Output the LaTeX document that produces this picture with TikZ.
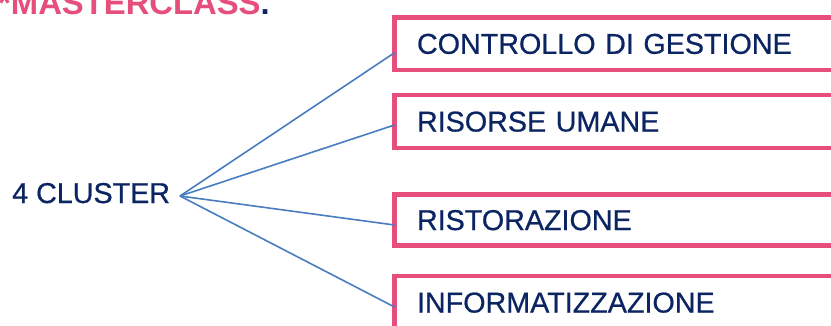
\documentclass[tikz,border=0pt]{standalone}
\usepackage{fontspec}
\setmainfont{Liberation Sans}
\newfontfamily\medfont{Liberation Sans}[FakeBold=0.6]
\definecolor{pinkc}{HTML}{E64E7B}
\definecolor{navy}{HTML}{0B2462}
\definecolor{linkc}{HTML}{4A7DC0}
\begin{document}
\begin{tikzpicture}[x=1pt,y=-1pt,
  txt/.style={text=navy,font=\medfont\fontsize{28.7}{34}\selectfont,inner sep=0pt},
  box/.style={draw=pinkc,line width=4.5pt,anchor=north west,minimum width=600pt,
    text width=555pt,align=left,inner xsep=22.5pt,inner ysep=0pt,outer sep=0pt,
    text depth=0pt,text=navy,font=\medfont\fontsize{28.7}{34}\selectfont},
  link/.style={draw=linkc,line width=1.6pt}]
\useasboundingbox (0,0) rectangle (831,325);
\clip (0,0) rectangle (831,325);
\fill[white] (0,0) rectangle (831,325);
\node[anchor=base west,inner sep=0pt,font=\bfseries\fontsize{32.8}{38}\selectfont,text=pinkc] (title) at (-2,14) {*MASTERCLASS\textcolor{navy}{.}};
\node[txt,anchor=base west] (cluster) at (12,203) {4 CLUSTER};
\coordinate (hub) at (180,196);
\node[box,minimum height=52.5pt] (b1) at (394.5,17.5) {CONTROLLO DI GESTIONE};
\node[box,minimum height=53pt] (b2) at (394.5,95) {RISORSE UMANE};
\node[box,minimum height=51pt] (b3) at (394.5,194.5) {RISTORAZIONE};
\node[box,minimum height=53pt] (b4) at (394.5,276) {INFORMATIZZAZIONE};
\draw[link] (hub) -- ([yshift=-9pt]b1.west);
\draw[link] (hub) -- ([yshift=-3.5pt]b2.west);
\draw[link] (hub) -- ([yshift=-5pt]b3.west);
\draw[link] (hub) -- ([yshift=-4.5pt]b4.west);
\end{tikzpicture}
\end{document}
